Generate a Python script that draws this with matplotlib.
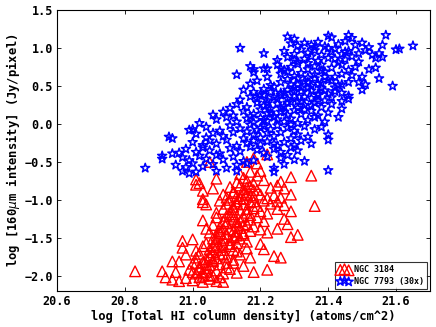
import matplotlib
matplotlib.use('Agg')
import matplotlib.pyplot as plt

# NGC 7793 (30x) - blue stars
ngc7793 = [
    (21.28, 1.15), (21.30, 1.12), (21.40, 1.16), (21.41, 1.14), (21.46, 1.17), (21.47, 1.13), (21.57, 1.17),
    (21.14, 1.00), (21.29, 1.06), (21.31, 1.03), (21.33, 1.07), (21.35, 1.04), (21.37, 1.08), (21.39, 1.02),
    (21.43, 1.05), (21.45, 1.09), (21.48, 1.04), (21.50, 1.07), (21.52, 1.01), (21.56, 1.04), (21.65, 1.03),
    (21.60, 0.98), (21.61, 0.99),
    (21.21, 0.93), (21.27, 0.96), (21.30, 0.92), (21.32, 0.98), (21.34, 0.94), (21.36, 0.97), (21.38, 0.91),
    (21.41, 0.95), (21.42, 0.99), (21.44, 0.92), (21.46, 0.96), (21.49, 0.93), (21.51, 0.97), (21.53, 0.91),
    (21.55, 0.93),
    (21.25, 0.84), (21.28, 0.88), (21.31, 0.82), (21.33, 0.86), (21.35, 0.89), (21.37, 0.83), (21.40, 0.87),
    (21.43, 0.81), (21.45, 0.85), (21.47, 0.89), (21.49, 0.82), (21.54, 0.87), (21.56, 0.88),
    (21.17, 0.76), (21.18, 0.72), (21.21, 0.73), (21.22, 0.73), (21.25, 0.78), (21.27, 0.71), (21.29, 0.75),
    (21.31, 0.79), (21.34, 0.72), (21.36, 0.76), (21.38, 0.70), (21.41, 0.74), (21.44, 0.78), (21.46, 0.71),
    (21.48, 0.75), (21.52, 0.72), (21.54, 0.74),
    (21.13, 0.65), (21.18, 0.68), (21.22, 0.62), (21.26, 0.66), (21.28, 0.69), (21.30, 0.63), (21.32, 0.67),
    (21.34, 0.61), (21.36, 0.65), (21.39, 0.69), (21.42, 0.62), (21.44, 0.66), (21.47, 0.64), (21.50, 0.62),
    (21.55, 0.60),
    (21.17, 0.53), (21.19, 0.57), (21.23, 0.51), (21.26, 0.55), (21.28, 0.59), (21.31, 0.52), (21.33, 0.56),
    (21.35, 0.50), (21.38, 0.54), (21.40, 0.58), (21.43, 0.51), (21.46, 0.55), (21.49, 0.55), (21.51, 0.52),
    (21.59, 0.50),
    (21.18, 0.42), (21.21, 0.46), (21.24, 0.49), (21.26, 0.41), (21.28, 0.45), (21.30, 0.48), (21.32, 0.43),
    (21.34, 0.47), (21.37, 0.40), (21.39, 0.44), (21.42, 0.48), (21.44, 0.41), (21.46, 0.37), (21.50, 0.45),
    (21.14, 0.32), (21.17, 0.36), (21.20, 0.39), (21.22, 0.31), (21.24, 0.35), (21.26, 0.38), (21.28, 0.33),
    (21.30, 0.37), (21.32, 0.30), (21.35, 0.34), (21.37, 0.38), (21.39, 0.31), (21.41, 0.35), (21.44, 0.30),
    (21.46, 0.33),
    (21.11, 0.21), (21.13, 0.26), (21.16, 0.22), (21.19, 0.28), (21.21, 0.24), (21.23, 0.20), (21.25, 0.27),
    (21.27, 0.23), (21.29, 0.29), (21.31, 0.21), (21.33, 0.25), (21.36, 0.28), (21.38, 0.22), (21.41, 0.26),
    (21.44, 0.20),
    (21.06, 0.12), (21.09, 0.16), (21.12, 0.11), (21.15, 0.17), (21.18, 0.13), (21.20, 0.19), (21.22, 0.14),
    (21.24, 0.10), (21.26, 0.16), (21.28, 0.12), (21.30, 0.18), (21.32, 0.13), (21.35, 0.17), (21.37, 0.11),
    (21.40, 0.15),
    (21.02, 0.01), (21.07, 0.06), (21.10, 0.09), (21.13, 0.03), (21.16, 0.07), (21.18, 0.02), (21.20, 0.08),
    (21.22, 0.04), (21.24, 0.09), (21.27, 0.03), (21.29, 0.07), (21.31, 0.01), (21.34, 0.05), (21.36, 0.09),
    (21.39, 0.03), (21.43, 0.09),
    (20.99, -0.08), (21.00, -0.07), (21.04, -0.04), (21.08, -0.09), (21.11, -0.02), (21.14, -0.06),
    (21.17, -0.01), (21.19, -0.08), (21.21, -0.03), (21.23, -0.07), (21.25, -0.02), (21.28, -0.05),
    (21.30, -0.09), (21.33, -0.03), (21.36, -0.07), (21.38, -0.04),
    (20.93, -0.17), (20.94, -0.19), (21.01, -0.13), (21.04, -0.18), (21.06, -0.12), (21.09, -0.16),
    (21.12, -0.11), (21.15, -0.19), (21.18, -0.14), (21.20, -0.18), (21.22, -0.12), (21.24, -0.16),
    (21.26, -0.11), (21.29, -0.19), (21.31, -0.14), (21.34, -0.17), (21.40, -0.14), (21.40, -0.21),
    (21.00, -0.24), (21.03, -0.28), (21.05, -0.22), (21.07, -0.26), (21.10, -0.21), (21.13, -0.29),
    (21.16, -0.25), (21.18, -0.22), (21.20, -0.27), (21.22, -0.23), (21.25, -0.29), (21.27, -0.24),
    (21.30, -0.28), (21.32, -0.22), (21.35, -0.26),
    (20.96, -0.38), (20.98, -0.33), (21.01, -0.37), (21.03, -0.31), (21.05, -0.35), (21.08, -0.39),
    (21.11, -0.32), (21.14, -0.36), (21.17, -0.30), (21.19, -0.34), (21.21, -0.38), (21.24, -0.33),
    (21.26, -0.37), (21.29, -0.31), (21.31, -0.35),
    (20.91, -0.42), (20.91, -0.46), (20.94, -0.39), (20.97, -0.44), (20.99, -0.48), (21.02, -0.42),
    (21.04, -0.46), (21.07, -0.41), (21.09, -0.47), (21.12, -0.43), (21.15, -0.49), (21.18, -0.48),
    (21.22, -0.43), (21.26, -0.45), (21.28, -0.41), (21.30, -0.47), (21.33, -0.49),
    (20.86, -0.58), (20.95, -0.54), (20.98, -0.57), (21.00, -0.52), (21.03, -0.56), (21.06, -0.53),
    (21.10, -0.58), (21.13, -0.54), (21.16, -0.52), (21.24, -0.58), (21.27, -0.53),
    (20.97, -0.62), (20.99, -0.65), (21.01, -0.63), (21.07, -0.62), (21.13, -0.62), (21.24, -0.63), (21.40, -0.61),
    (21.21, 0.05), (21.23, 0.15), (21.25, 0.33), (21.27, 0.41), (21.29, 0.52), (21.31, 0.60), (21.33, 0.36),
    (21.35, 0.44), (21.37, 0.53), (21.39, 0.62), (21.41, 0.57), (21.19, 0.33), (21.21, 0.38), (21.23, 0.42),
    (21.25, 0.06), (21.27, 0.16), (21.29, -0.01), (21.31, 0.30), (21.33, 0.19), (21.35, 0.24), (21.37, 0.30),
    (21.20, -0.05), (21.22, 0.27), (21.26, 0.21), (21.28, 0.28), (21.30, 0.42), (21.32, 0.48), (21.34, 0.55),
    (21.36, 0.60), (21.38, 0.47), (21.40, 0.40), (21.42, 0.43), (21.44, 0.52), (21.17, 0.10), (21.16, -0.10),
    (21.24, -0.26), (21.15, 0.45), (21.26, 0.73), (21.30, 0.84), (21.34, 0.80), (21.38, 0.78), (21.42, 0.86),
    (21.45, 0.95), (21.40, 1.00), (21.36, 1.01),
]

# NGC 3184 - red triangles
ngc3184 = [
    (21.05, -0.50), (21.16, -0.50), (21.18, -0.45), (21.19, -0.52), (21.22, -0.40),
    (21.14, -0.66), (21.17, -0.63), (21.19, -0.68), (21.20, -0.62), (21.35, -0.68),
    (21.01, -0.73), (21.02, -0.78), (21.07, -0.72), (21.13, -0.77), (21.15, -0.71), (21.16, -0.75),
    (21.18, -0.79), (21.21, -0.74), (21.26, -0.76), (21.29, -0.70),
    (21.01, -0.80), (21.03, -0.88), (21.06, -0.85), (21.11, -0.83), (21.12, -0.89), (21.14, -0.81),
    (21.15, -0.86), (21.17, -0.82), (21.19, -0.87), (21.23, -0.84), (21.25, -0.81), (21.27, -0.85),
    (21.03, -0.99), (21.09, -0.93), (21.10, -0.97), (21.12, -0.91), (21.13, -0.95), (21.15, -0.99),
    (21.16, -0.92), (21.18, -0.96), (21.20, -0.93), (21.22, -0.98), (21.24, -0.94), (21.26, -0.97),
    (21.29, -0.93),
    (21.03, -1.03), (21.04, -1.06), (21.08, -1.01), (21.10, -1.05), (21.12, -1.09), (21.13, -1.02),
    (21.15, -1.06), (21.17, -1.03), (21.19, -1.08), (21.21, -1.01), (21.23, -1.05), (21.25, -1.02),
    (21.27, -1.07), (21.36, -1.08),
    (21.07, -1.17), (21.09, -1.12), (21.11, -1.16), (21.12, -1.19), (21.14, -1.13), (21.16, -1.17),
    (21.18, -1.11), (21.20, -1.15), (21.22, -1.18), (21.25, -1.12), (21.29, -1.15),
    (21.03, -1.27), (21.07, -1.23), (21.09, -1.28), (21.10, -1.21), (21.12, -1.25), (21.13, -1.29),
    (21.15, -1.22), (21.17, -1.26), (21.19, -1.23), (21.21, -1.28), (21.27, -1.25),
    (21.04, -1.38), (21.06, -1.33), (21.08, -1.36), (21.10, -1.31), (21.11, -1.39), (21.13, -1.34),
    (21.14, -1.37), (21.16, -1.32), (21.18, -1.35), (21.20, -1.39), (21.25, -1.38), (21.28, -1.32),
    (21.05, -1.43), (21.07, -1.47), (21.08, -1.41), (21.10, -1.45), (21.12, -1.49), (21.13, -1.42),
    (21.15, -1.46), (21.17, -1.41), (21.22, -1.43), (21.29, -1.49), (21.31, -1.46),
    (20.97, -1.54), (21.00, -1.52), (21.04, -1.57), (21.06, -1.51), (21.07, -1.55), (21.09, -1.59),
    (21.11, -1.53), (21.13, -1.57), (21.14, -1.51), (21.16, -1.55), (21.20, -1.58),
    (20.97, -1.63), (21.01, -1.67), (21.03, -1.61), (21.05, -1.65), (21.06, -1.69), (21.08, -1.62),
    (21.09, -1.66), (21.11, -1.61), (21.13, -1.68), (21.16, -1.64), (21.21, -1.65),
    (20.98, -1.72), (21.01, -1.76), (21.02, -1.71), (21.04, -1.78), (21.05, -1.73), (21.07, -1.77),
    (21.08, -1.71), (21.10, -1.75), (21.12, -1.79), (21.14, -1.72), (21.17, -1.76), (21.24, -1.74),
    (21.26, -1.76),
    (20.94, -1.81), (20.96, -1.81), (21.00, -1.84), (21.02, -1.88), (21.03, -1.82), (21.05, -1.86),
    (21.06, -1.81), (21.08, -1.85), (21.10, -1.89), (21.12, -1.83), (21.15, -1.87),
    (20.83, -1.94), (20.91, -1.94), (20.95, -1.95), (20.99, -1.92), (21.01, -1.97), (21.02, -1.91),
    (21.04, -1.95), (21.05, -1.99), (21.07, -1.93), (21.09, -1.97), (21.11, -1.91), (21.13, -1.96),
    (21.18, -1.95), (21.22, -1.92),
    (20.92, -2.02), (20.94, -2.05), (20.96, -2.07), (20.98, -2.03), (21.00, -2.06), (21.02, -2.02),
    (21.03, -2.08), (21.05, -2.04), (21.07, -2.07), (21.09, -2.08),
    (21.03, -1.95), (21.04, -1.85), (21.05, -1.75), (21.06, -1.60), (21.07, -1.52), (21.08, -1.44),
    (21.09, -1.38), (21.10, -1.30), (21.11, -1.22), (21.12, -1.12), (21.13, -1.05), (21.14, -0.98),
    (21.15, -0.90), (21.16, -0.84), (21.12, -1.41), (21.14, -1.28), (21.15, -1.44), (21.16, -1.12),
    (21.17, -0.94), (21.18, -0.87), (21.11, -1.00), (21.09, -1.50), (21.07, -1.62), (21.06, -1.79),
    (21.04, -1.90), (21.03, -2.00), (21.10, -1.83), (21.09, -1.72), (21.11, -1.58), (21.13, -1.47),
    (21.15, -1.33), (21.17, -1.20), (21.18, -1.02), (21.01, -1.83), (21.00, -1.95), (21.08, -2.02),
    (21.06, -2.00), (21.12, -1.66),
]

labels = ['NGC 3184', 'NGC 7793 (30x)']
x_ticks = [20.6, 20.8, 21.0, 21.2, 21.4, 21.6]
y_ticks = [-2.0, -1.5, -1.0, -0.5, 0.0, 0.5, 1.0, 1.5]

mono = {'family': 'DejaVu Sans Mono', 'weight': 'bold'}

fig = plt.figure(figsize=(4.36, 3.27), dpi=100)
ax = fig.add_axes([0.131, 0.110, 0.855, 0.859])

bx, by = zip(*ngc7793)
rx, ry = zip(*ngc3184)
ax.scatter(rx, ry, s=58, marker='^', facecolors='none', edgecolors='r', linewidths=1.0,
           label=labels[0], zorder=2)
ax.scatter(bx, by, s=46, marker='*', facecolors='none', edgecolors='b', linewidths=1.1,
           label=labels[1], zorder=3)

ax.set_xlim(20.6, 21.7)
ax.set_ylim(-2.2, 1.5)
ax.set_xticks(x_ticks)
ax.set_yticks(y_ticks)
ax.set_xticklabels([f'{t:.1f}' for t in x_ticks], fontdict=mono, fontsize=8.5)
ax.set_yticklabels([f'{t:.1f}'.replace('-', '\u2212') for t in y_ticks], fontdict=mono, fontsize=8.5)
ax.tick_params(direction='in', top=True, right=True, length=3, width=0.6, pad=3)
for sp in ax.spines.values():
    sp.set_linewidth(0.8)

ax.set_xlabel('log [Total HI column density] (atoms/cm^2)', fontdict=mono, fontsize=8.7, labelpad=1)
ax.set_ylabel(r'log [160$\mu$m intensity] (Jy/pixel)', fontdict=mono, fontsize=8.7, labelpad=2)

leg = ax.legend(loc='lower right', scatterpoints=3, fancybox=False, borderaxespad=0.3,
                prop={'family': 'DejaVu Sans Mono', 'weight': 'bold', 'size': 6},
                handletextpad=0.4, borderpad=0.35, labelspacing=0.3, handlelength=1.6)
leg.get_frame().set_edgecolor('black')
leg.get_frame().set_linewidth(0.8)

fig.savefig('out.png', dpi=100)
